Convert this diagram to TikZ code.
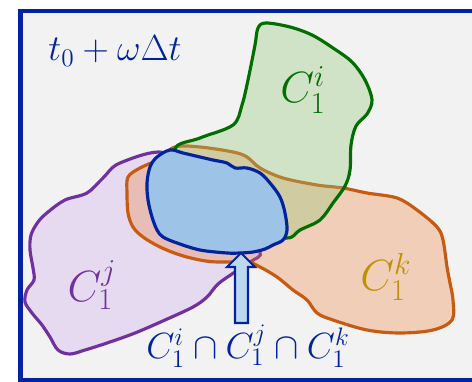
\documentclass[tikz,border=0pt]{standalone}
\usepackage{xcolor}
\definecolor{cbblue}{RGB}{0,35,160}
\definecolor{cbgreen}{RGB}{0,110,0}
\definecolor{cbgreenfill}{RGB}{150,200,120}
\definecolor{cborange}{RGB}{200,90,17}
\definecolor{cborangefill}{RGB}{237,125,49}
\definecolor{cbpurple}{RGB}{112,48,160}
\definecolor{cbpurplefill}{RGB}{170,110,235}
\definecolor{cbgold}{RGB}{191,144,0}
\definecolor{cbmeet}{RGB}{157,195,230}
\definecolor{cbarrow}{RGB}{189,215,238}
\definecolor{cbback}{RGB}{242,242,242}
\usetikzlibrary{positioning}

\begin{document}
\begin{tikzpicture}[
    x=0.02cm, y=-0.02cm,
    every node/.style={font=\fontsize{20}{24}\selectfont},
    big/.style={font=\fontsize{23}{27}\selectfont},
    blob/.style={line width=1.8pt, line join=round},
    blobi/.style={blob, draw=cbgreen, fill=cbgreenfill, fill opacity=0.35},
    blobj/.style={blob, draw=cbpurple, fill=cbpurplefill, fill opacity=0.18},
    blobk/.style={blob, draw=cborange, fill=cborangefill, fill opacity=0.3},
    meet/.style={blob, draw=cbblue, fill=cbmeet},
    pointer/.style={line width=1.2pt, draw=cbblue, fill=cbarrow, line join=miter},
]

% ---- Frame ----
\useasboundingbox (0,0) rectangle (472,381);
\fill[white] (0,0) rectangle (472,381);
\fill[cbback] (20.5,11) rectangle (472,380);
\draw[cbblue, line width=2.5pt] (472,11) -- (20.5,11) -- (20.5,380) -- (472,380);

% ---- Time label ----
\node[text=cbblue] (time) at (115,51) {$t_0+\omega\Delta t$};

% ---- Cluster j (purple) ----
\draw[blobj] plot[smooth cycle, tension=0.55] coordinates {
    (165,153) (120,163) (103,178) (87,193) (65,200) (48,212) (38,222)
    (31,235) (30,250) (33,268) (34,280) (27,290) (25,302) (32,313)
    (42,325) (50,337) (58,350) (70,354) (85,350) (107,343) (135,333)
    (165,320) (193,307) (207,297) (218,284) (235,272) (250,262)
    (260,252) (230,230) (190,190)};

% ---- Cluster k (orange) ----
\draw[blobk] plot[smooth cycle, tension=0.55] coordinates {
    (175,147) (200,147) (233,152) (247,157) (260,168) (283,178)
    (317,185) (343,188) (367,193) (397,198) (417,210) (437,227)
    (443,240) (447,267) (450,283) (453,300) (452,320) (433,330)
    (400,333) (367,330) (333,320) (317,313) (307,300) (293,290)
    (277,277) (260,267) (247,262) (217,262) (200,260) (180,255)
    (160,247) (143,237) (133,227) (128,213) (127,193) (128,177)
    (140,168) (157,160)};

% ---- Cluster i (green) ----
\draw[blobi] plot[smooth cycle, tension=0.55] coordinates {
    (175,150) (200,138) (233,125) (242,105) (248,80) (255,45) (258,28)
    (266,23) (290,27) (312,35) (333,48) (352,62) (365,80) (372,100)
    (367,114) (356,126) (351,145) (350,170) (345,186) (333,203)
    (320,220) (300,230) (287,238) (250,230) (200,190)};

% ---- Intersection ----
\draw[meet] plot[smooth cycle, tension=0.55] coordinates {
    (170,150) (183,153) (200,157) (213,160) (227,163) (235,168)
    (247,168) (260,173) (270,183) (280,197) (285,213) (287,230)
    (283,240) (273,245) (265,249) (253,252) (240,253) (227,253)
    (200,250) (177,243) (163,237) (157,230) (152,217) (148,200)
    (147,183) (150,167) (157,157)};

% ---- Cluster labels ----
\node[big, text=cbgreen]  (ci) at (303,90)  {$C_1^i$};
\node[big, text=cbpurple] (cj) at (92,285)  {$C_1^j$};
\node[big, text=cbgold]   (ck) at (386,277) {$C_1^k$};

% ---- Pointer ----
\coordinate (tip) at (241,253);
\node[text=cbblue] (cap) at (248,346) {$C_1^i\cap C_1^j\cap C_1^k$};
\draw[pointer] (tip) -- (255,267) -- (248,267) -- (248,323)
    -- (235,323) -- (235,267) -- (227,267) -- cycle;

\end{tikzpicture}
\end{document}
